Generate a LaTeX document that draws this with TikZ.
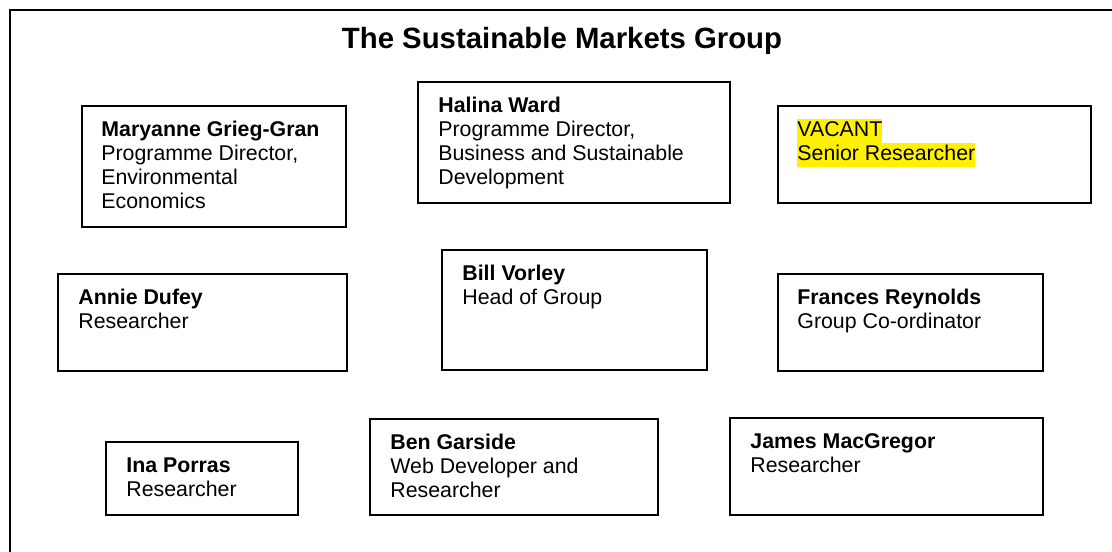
\documentclass[tikz,border=0pt]{standalone}
\usepackage{fontspec}
\setmainfont{Liberation Sans}
\usetikzlibrary{fit}

\newcommand{\hilite}[1]{{\setlength{\fboxsep}{0pt}\colorbox{yellow}{\strut #1}}}

\tikzset{
  frame/.style={draw, line width=1.3pt, inner sep=0pt, fit={#1}},
  card/.style={draw, line width=1.3pt, inner sep=0pt, fit={#1}},
  cardtext/.style={anchor=north west, inner sep=0pt, align=left, font=\fontsize{16}{18}\selectfont},
  heading/.style={anchor=base, inner sep=0pt, font=\fontsize{22}{26}\selectfont\bfseries}
}

\begin{document}
\begin{tikzpicture}[x=0.75pt, y=-0.75pt]
    \useasboundingbox (0,0) rectangle (1112,551) ; %
    \clip (0,0) rectangle (1112,551) ; %
    \node[frame={(10,10) (1140,580)}] (group) {} ; %
    \node[heading] (title) at (562,48) {The Sustainable Markets Group} ; %
% top row
    \node[card={(82,106) (346,227)}] (maryanne) {} ; %
    \node[cardtext] (maryanne-text) at ([shift={(20,14)}]maryanne.north west) {\strut\textbf{Maryanne Grieg-Gran}\\Programme Director,\\Environmental\\Economics} ; %
    \node[card={(418,82) (730,203)}] (halina) {} ; %
    \node[cardtext] (halina-text) at ([shift={(21,14)}]halina.north west) {\strut\textbf{Halina Ward}\\Programme Director,\\Business and Sustainable\\Development} ; %
    \node[card={(778,106) (1091,203)}] (vacant) {} ; %
    \node[cardtext] (vacant-text) at ([shift={(20,14)}]vacant.north west) {\hilite{VACANT}\\\hilite{Senior Researcher}} ; %
% middle row
    \node[card={(58,274) (347,371)}] (annie) {} ; %
    \node[cardtext] (annie-text) at ([shift={(21,14)}]annie.north west) {\strut\textbf{Annie Dufey}\\Researcher} ; %
    \node[card={(442,250) (707,370)}] (bill) {} ; %
    \node[cardtext] (bill-text) at ([shift={(21,14)}]bill.north west) {\strut\textbf{Bill Vorley}\\Head of Group} ; %
    \node[card={(778,274) (1043,371)}] (frances) {} ; %
    \node[cardtext] (frances-text) at ([shift={(20,14)}]frances.north west) {\strut\textbf{Frances Reynolds}\\Group Co-ordinator} ; %
% bottom row
    \node[card={(106,442) (298,515)}] (ina) {} ; %
    \node[cardtext] (ina-text) at ([shift={(21,14)}]ina.north west) {\strut\textbf{Ina Porras}\\Researcher} ; %
    \node[card={(370,419) (658,515)}] (ben) {} ; %
    \node[cardtext] (ben-text) at ([shift={(21,14)}]ben.north west) {\strut\textbf{Ben Garside}\\Web Developer and\\Researcher} ; %
    \node[card={(730,418) (1043,515)}] (james) {} ; %
    \node[cardtext] (james-text) at ([shift={(21,14)}]james.north west) {\strut\textbf{James MacGregor}\\Researcher} ; %
\end{tikzpicture}
\end{document}
